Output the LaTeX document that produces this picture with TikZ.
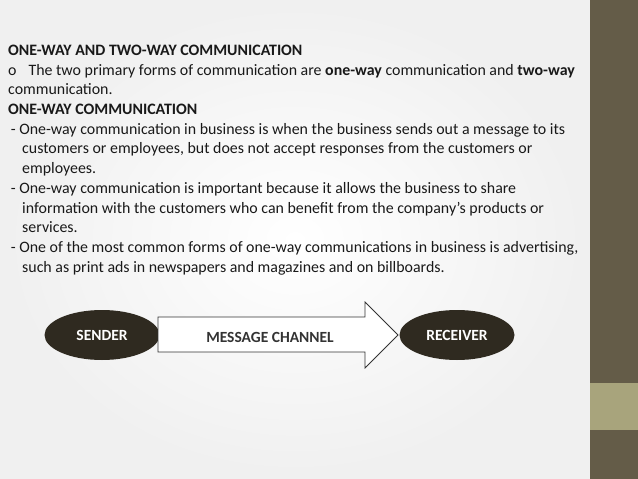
\documentclass[tikz,border=0pt]{standalone}
\usepackage{fontspec}
\setmainfont{Carlito}
\usetikzlibrary{shapes.geometric,shapes.arrows}
\definecolor{bar}{HTML}{645C48}
\definecolor{barlight}{HTML}{A8A47C}
\definecolor{ell}{HTML}{2F2A20}
\begin{document}
\begin{tikzpicture}[x=1pt,y=-1pt,
  txt/.style={anchor=base west,inner sep=0pt,font=\fontsize{15.9}{18}\selectfont,text=black!90},
  ellnode/.style={ellipse,fill=ell,text=white,font=\bfseries\fontsize{15.5}{18}\selectfont,minimum width=115,minimum height=50,inner sep=0pt}]
\useasboundingbox (0,0) rectangle (638,479);
\shade[inner color=white,outer color=black!6] (0,0) rectangle (590,479);
\fill[bar] (590,0) rectangle (638,479);
\fill[barlight] (590,383) rectangle (638,430);
\node[txt] (l1) at (8,55) {\bfseries ONE-WAY AND TWO-WAY COMMUNICATION};
\node[txt] (l2) at (8,75) {o\hspace{12pt}The two primary forms of communication are \textbf{one-way} communication and \textbf{two-way}};
\node[txt] (l3) at (8,94) {communication.};
\node[txt] (l4) at (8,114) {\bfseries ONE-WAY COMMUNICATION};
\node[txt] (l5) at (8,134) {\,- One-way communication in business is when the business sends out a message to its};
\node[txt] (l6) at (22,153) {customers or employees, but does not accept responses from the customers or};
\node[txt] (l7) at (22,173) {employees.};
\node[txt] (l8) at (8,193) {\,- One-way communication is important because it allows the business to share};
\node[txt] (l9) at (22,213) {information with the customers who can benefit from the company’s products or};
\node[txt] (l10) at (22,232) {services.};
\node[txt] (l11) at (8,252) {\,- One of the most common forms of one-way communications in business is advertising,};
\node[txt] (l12) at (22,272) {such as print ads in newspapers and magazines and on billboards.};
\node[ellnode] (s) at (102,335) {SENDER};
\node[ellnode] (r) at (457,335) {RECEIVER};
\draw[fill=white,draw=black!80,line width=0.8pt] (158,317) -- (365,317) -- (365,302) -- (398,335) -- (365,368) -- (365,352) -- (158,352) -- cycle;
\node[font=\bfseries\fontsize{15.5}{18}\selectfont,text=black!80] (m) at (270,337) {MESSAGE CHANNEL};
\end{tikzpicture}
\end{document}
